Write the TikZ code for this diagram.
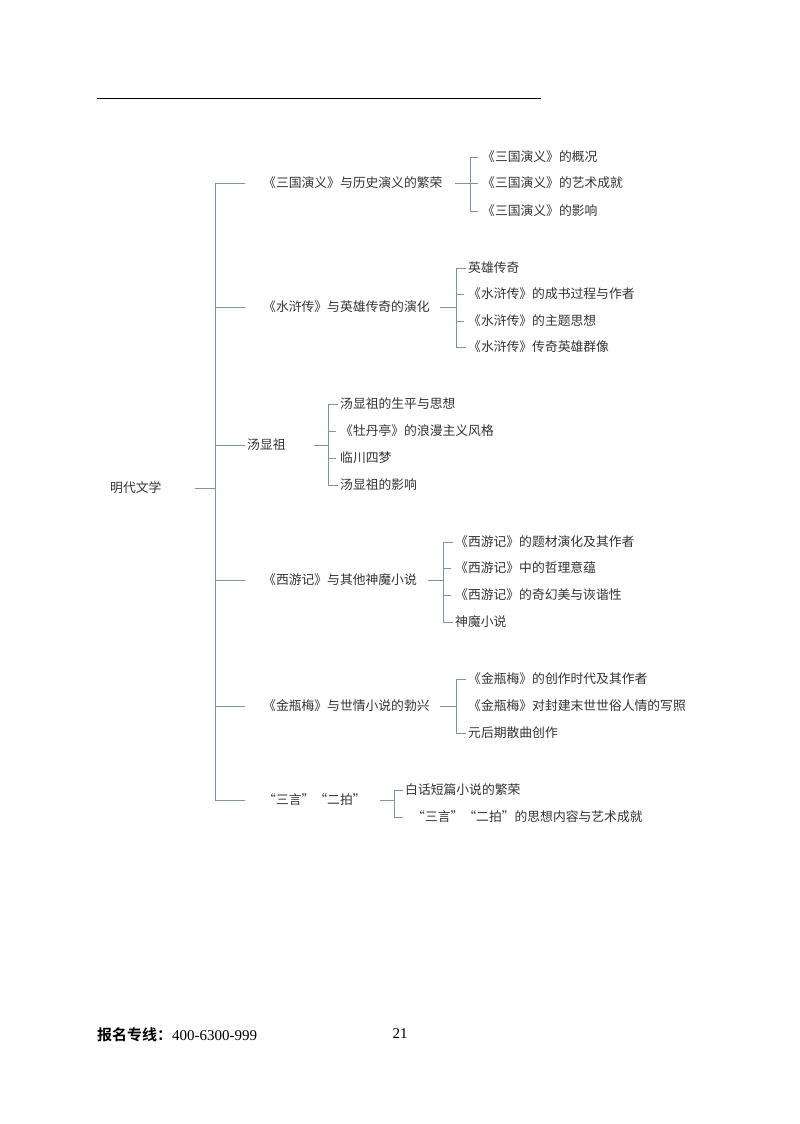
\documentclass[tikz,border=0pt]{standalone}
\usepackage{fontspec}
\newfontfamily\cjk{Noto Sans CJK SC}
\newfontfamily\cjkb{Noto Sans CJK SC Bold}
\setmainfont{Liberation Serif}
\definecolor{lc}{HTML}{7F93A8}
\begin{document}
\begin{tikzpicture}[x=1pt,y=-1pt,
  ln/.style={draw=lc,line width=0.8pt},
  t/.style={anchor=west,inner sep=0pt,font=\cjk\fontsize{12.8}{12.8}\selectfont,text=black!80}]
\useasboundingbox (0,0) rectangle (800,1124);
\draw[line width=0.8pt] (97,98) -- (541,98);
\node[t] (root) at (110,488) {明代文学};
\coordinate (r1) at (195,488); \coordinate (r2) at (215,488);
\draw[ln] (r1) -- (r2);
\draw[ln] (215,183) -- (215,800);
\foreach \y in {183,307,445,580,706,800} \draw[ln] (215,\y) -- (245,\y);
% group 1
\node[t] (a) at (263,183) {《三国演义》与历史演义的繁荣};
\draw[ln] (455,183) -- (470,183); \draw[ln] (478,157) -- (470,157) -- (470,211) -- (478,211); \draw[ln] (470,183)--(478,183);
\node[t] (a1) at (482,157) {《三国演义》的概况};
\node[t] (a2) at (482,183) {《三国演义》的艺术成就};
\node[t] (a3) at (482,211) {《三国演义》的影响};
% group 2
\node[t] (b) at (263,307) {《水浒传》与英雄传奇的演化};
\draw[ln] (440,307) -- (456,307); \draw[ln] (466,268) -- (456,268) -- (456,347) -- (466,347);
\foreach \y in {294,321} \draw[ln] (456,\y)--(464,\y);
\node[t] (b1) at (468,268) {英雄传奇};
\node[t] (b2) at (468,294) {《水浒传》的成书过程与作者};
\node[t] (b3) at (468,321) {《水浒传》的主题思想};
\node[t] (b4) at (468,347) {《水浒传》传奇英雄群像};
% group 3
\node[t] (c) at (247,445) {汤显祖};
\draw[ln] (314,445) -- (328,445); \draw[ln] (338,404) -- (328,404) -- (328,485) -- (338,485);
\foreach \y in {431,458} \draw[ln] (328,\y)--(336,\y);
\node[t] (c1) at (340,404) {汤显祖的生平与思想};
\node[t] (c2) at (340,431) {《牡丹亭》的浪漫主义风格};
\node[t] (c3) at (340,458) {临川四梦};
\node[t] (c4) at (340,485) {汤显祖的影响};
% group 4
\node[t] (d) at (263,580) {《西游记》与其他神魔小说};
\draw[ln] (428,580) -- (443,580); \draw[ln] (453,542) -- (443,542) -- (443,622) -- (453,622);
\foreach \y in {568,595} \draw[ln] (443,\y)--(451,\y);
\node[t] (d1) at (455,542) {《西游记》的题材演化及其作者};
\node[t] (d2) at (455,568) {《西游记》中的哲理意蕴};
\node[t] (d3) at (455,595) {《西游记》的奇幻美与诙谐性};
\node[t] (d4) at (455,622) {神魔小说};
% group 5
\node[t] (e) at (263,706) {《金瓶梅》与世情小说的勃兴};
\draw[ln] (440,706) -- (456,706); \draw[ln] (466,679) -- (456,679) -- (456,733) -- (466,733);
\node[t] (e1) at (468,679) {《金瓶梅》的创作时代及其作者};
\node[t] (e2) at (468,706) {《金瓶梅》对封建末世世俗人情的写照};
\node[t] (e3) at (468,733) {元后期散曲创作};
% group 6
\node[t] (f) at (263,800) {“三言”“二拍”};
\draw[ln] (380,800) -- (394,800); \draw[ln] (403,790) -- (394,790) -- (394,817) -- (403,817);
\node[t] (f1) at (405,790) {白话短篇小说的繁荣};
\node[t] (f2) at (412,817) {“三言”“二拍”的思想内容与艺术成就};
% footer
\node[anchor=west,inner sep=0pt,font=\fontsize{15}{15}\selectfont] (ft) at (97,1035) {{\cjkb 报名专线：}400-6300-999};
\node[inner sep=0pt,font=\fontsize{15}{15}\selectfont] (pg) at (400,1034) {21};
\end{tikzpicture}
\end{document}
